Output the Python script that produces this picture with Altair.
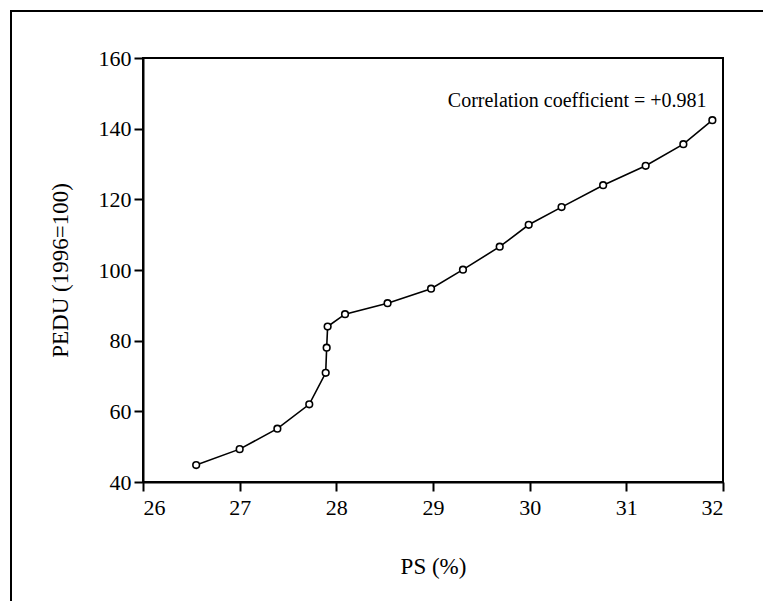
import altair as alt
import pandas as pd

# Data
ps = [26.55, 27.00, 27.39, 27.72, 27.89, 27.90, 27.91, 28.09, 28.53, 28.98,
      29.31, 29.69, 29.99, 30.33, 30.76, 31.20, 31.59, 31.89]
pedu = [44.8, 49.3, 55.1, 62.0, 70.9, 78.0, 84.0, 87.5, 90.6, 94.7,
        100.1, 106.6, 112.8, 117.8, 124.0, 129.5, 135.6, 142.4]

x_ticks = [26, 27, 28, 29, 30, 31, 32]
y_ticks = [40, 60, 80, 100, 120, 140, 160]

ann_x = [31.83]
ann_y = [146.2]
ann_text = ["Correlation coefficient = +0.981"]

df = pd.DataFrame({"ps": ps, "pedu": pedu, "idx": list(range(len(ps)))})
ann = pd.DataFrame({"x": ann_x, "y": ann_y, "t": ann_text})

FONT = "Liberation Serif"
W, H = 580, 424
PAD = {"left": 135, "top": 50, "right": 40, "bottom": 119}

xs = alt.Scale(domain=[26, 32], nice=False, zero=False)
ys = alt.Scale(domain=[40, 160], nice=False, zero=False)

base = alt.Chart(df)

line = base.mark_line(color="black", strokeWidth=1.6).encode(
    x=alt.X("ps:Q", scale=xs,
            axis=alt.Axis(title="PS (%)", values=x_ticks, format="d",
                          grid=False, tickSize=9, labelPadding=6,
                          titlePadding=37)),
    y=alt.Y("pedu:Q", scale=ys,
            axis=alt.Axis(title="PEDU (1996=100)", values=y_ticks, format="d",
                          grid=False, tickSize=9, labelPadding=3,
                          titlePadding=26)),
    order="idx:Q",
)

points = base.mark_point(shape="circle", filled=True, fill="white",
                         stroke="black", strokeWidth=1.6, size=44,
                         opacity=1).encode(
    x=alt.X("ps:Q", scale=xs),
    y=alt.Y("pedu:Q", scale=ys),
)

text = alt.Chart(ann).mark_text(font=FONT, fontSize=20, align="right",
                                baseline="alphabetic", color="black").encode(
    x=alt.X("x:Q", scale=xs),
    y=alt.Y("y:Q", scale=ys),
    text="t:N",
)

frame = alt.Chart(alt.Data(values=[{"a": 1}])).mark_rect(
    filled=False, stroke="black", strokeWidth=2, fill=None
).encode(
    x=alt.value(-132), y=alt.value(-47),
    x2=alt.value(W + PAD["right"] + 30), y2=alt.value(H + PAD["bottom"] + 30),
)

chart = alt.layer(frame, line, points, text).properties(
    width=W, height=H,
    padding=PAD,
    autosize=alt.AutoSizeParams(type="none"),
    background="white",
).configure_view(
    stroke="black", strokeWidth=2
).configure_axis(
    domainColor="black", domainWidth=2, tickColor="black", tickWidth=2,
    labelColor="black", titleColor="black",
    labelFont=FONT, titleFont=FONT, labelFontSize=22, titleFontSize=23,
    titleFontWeight="normal",
)

chart.save("out.html", embed_options={"renderer": "svg", "actions": False})
